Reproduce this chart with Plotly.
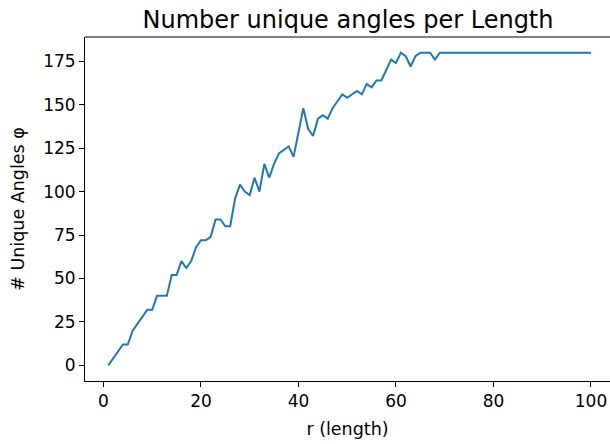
import plotly.graph_objects as go

r_length = list(range(1, 101))
unique_angles = [
    0, 4, 8, 12, 12, 20, 24, 28, 32, 32,
    40, 40, 40, 52, 52, 60, 56, 60, 68, 72,
    72, 74, 84, 84, 80, 80, 96, 104, 100, 98,
    108, 100, 116, 108, 116, 122, 124, 126, 120, 134,
    148, 136, 132, 142, 144, 142, 148, 152, 156, 154,
    156, 158, 156, 162, 160, 164, 164, 170, 176, 174,
    180, 178, 172, 178, 180, 180, 180, 176,
] + [180] * 32

x_ticks = [0, 20, 40, 60, 80, 100]
y_ticks = [0, 25, 50, 75, 100, 125, 150, 175]

FONT = "DejaVu Sans"

fig = go.Figure()
fig.add_trace(go.Scatter(
    x=r_length, y=unique_angles, mode="lines",
    line=dict(color="#1f77b4", width=2),
    hoverinfo="skip", showlegend=False,
))

W, H = 610, 444
L = 85
fig.update_layout(
    width=W, height=H,
    margin=dict(l=L, r=0, t=37, b=63, pad=0),
    paper_bgcolor="white", plot_bgcolor="white",
    font=dict(family=FONT, color="black", size=17),
    title=dict(text="Number unique angles per Length",
               x=(348 - L) / (W - L), xanchor="center", xref="paper",
               y=1 - 20 / H, yanchor="middle", yref="container",
               font=dict(family=FONT, size=24, color="black")),
    xaxis=dict(range=[-3.78, 103.9], tickvals=x_ticks,
               showline=True, linecolor="black", linewidth=1,
               ticks="outside", ticklen=5, tickwidth=1, tickcolor="black",
               showgrid=False, zeroline=False,
               tickfont=dict(size=17),
               title=dict(text="r (length)", font=dict(size=17.5), standoff=12)),
    yaxis=dict(range=[-9, 189], tickvals=y_ticks,
               showline=True, linecolor="black", linewidth=1,
               ticks="outside", ticklen=5, tickwidth=1, tickcolor="black",
               showgrid=False, zeroline=False,
               tickfont=dict(size=17),
               title=dict(text="# Unique Angles φ", font=dict(size=17.5), standoff=14)),
    shapes=[dict(type="line", xref="paper", yref="paper",
                 x0=0, x1=1, y0=1, y1=1,
                 line=dict(color="black", width=1))],
)

fig.write_html("out.html")
